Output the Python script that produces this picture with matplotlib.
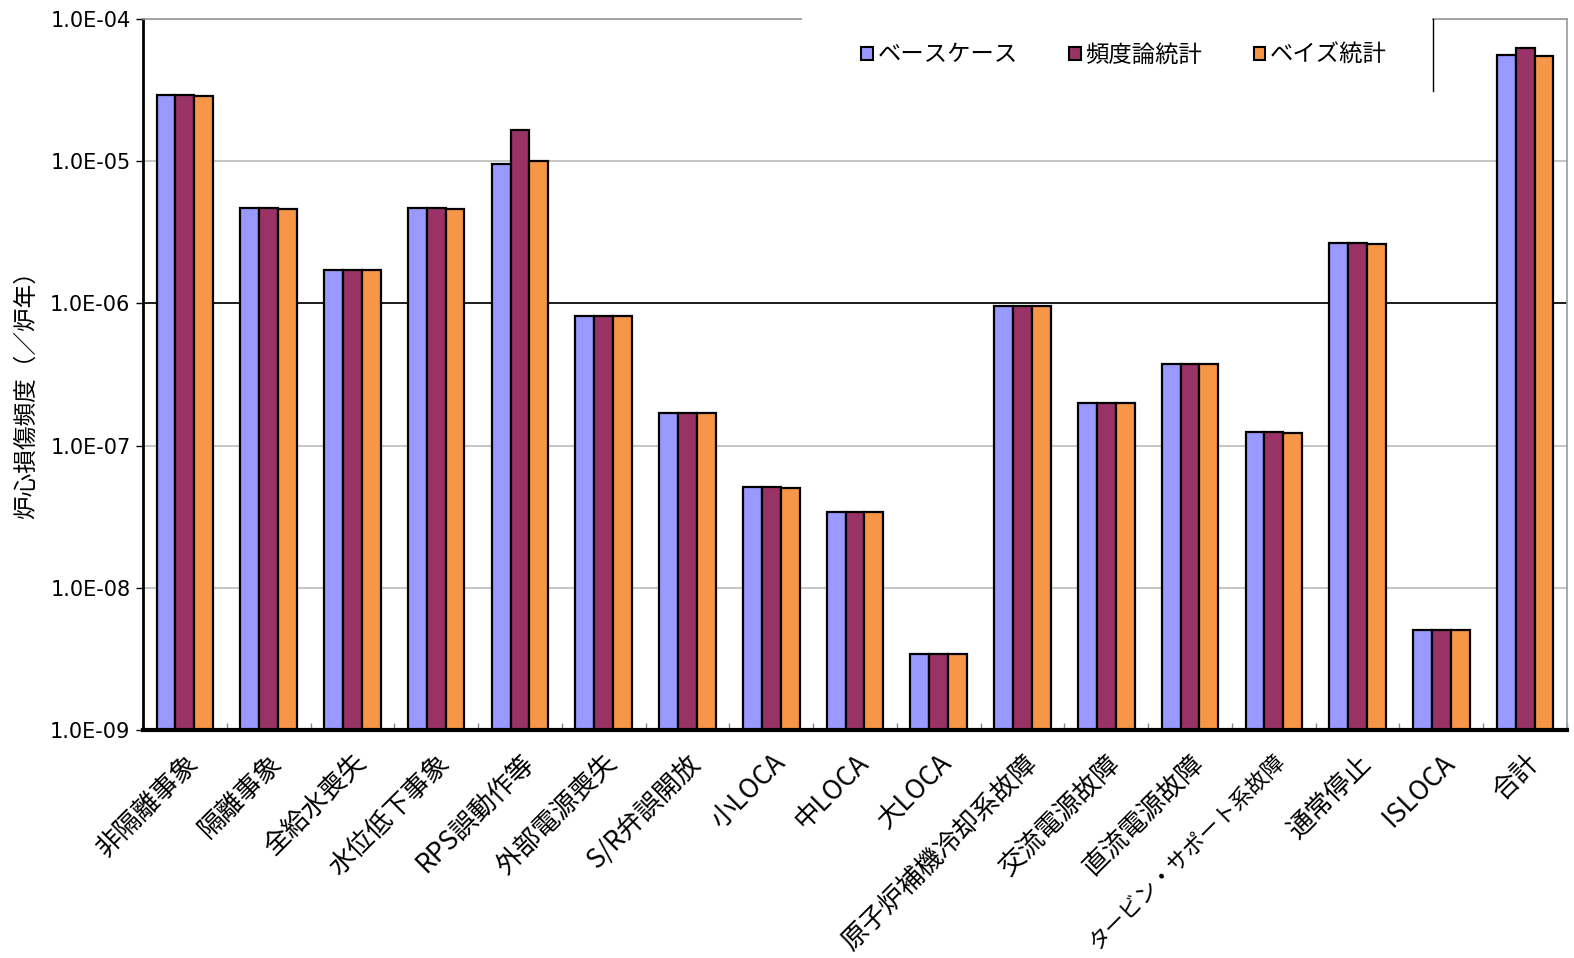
import matplotlib
matplotlib.use("Agg")
import matplotlib.pyplot as plt
import numpy as np
from matplotlib.patches import Rectangle
from matplotlib.lines import Line2D
from matplotlib.ticker import FixedLocator, FixedFormatter, NullFormatter

plt.rcParams['font.family'] = ['Noto Sans CJK JP', 'DejaVu Sans']

categories = ["非隔離事象", "隔離事象", "全給水喪失", "水位低下事象", "RPS誤動作等",
              "外部電源喪失", "S/R弁誤開放", "小LOCA", "中LOCA", "大LOCA",
              "原子炉補機冷却系故障", "交流電源故障", "直流電源故障",
              "タービン・サポート系故障", "通常停止", "ISLOCA", "合計"]

base_case = [2.92e-5, 4.71e-6, 1.72e-6, 4.71e-6, 9.5e-6, 8.1e-7, 1.70e-7, 5.13e-8,
             3.41e-8, 3.44e-9, 9.65e-7, 2.0e-7, 3.73e-7, 1.24e-7, 2.65e-6, 5.08e-9, 5.55e-5]
frequentist = [2.92e-5, 4.71e-6, 1.72e-6, 4.71e-6, 1.67e-5, 8.1e-7, 1.70e-7, 5.13e-8,
               3.41e-8, 3.44e-9, 9.65e-7, 2.0e-7, 3.73e-7, 1.24e-7, 2.65e-6, 5.08e-9, 6.3e-5]
bayes = [2.88e-5, 4.63e-6, 1.72e-6, 4.63e-6, 1.01e-5, 8.1e-7, 1.70e-7, 5.06e-8,
         3.41e-8, 3.44e-9, 9.55e-7, 2.0e-7, 3.73e-7, 1.23e-7, 2.63e-6, 5.08e-9, 5.5e-5]

series_names = ["ベースケース", "頻度論統計", "ベイズ統計"]
colors = ["#9999FF", "#993366", "#F79646"]

ytick_values = [1e-9, 1e-8, 1e-7, 1e-6, 1e-5, 1e-4]
ytick_labels = ["1.0E-09", "1.0E-08", "1.0E-07", "1.0E-06", "1.0E-05", "1.0E-04"]
ylabel = "炉心損傷頻度（／炉年）"

W, H = 1574, 958
fig = plt.figure(figsize=(W / 100, H / 100), dpi=100)
L, R, T, B = 143, 1567, 19, 730
ax = fig.add_axes([L / W, 1 - B / H, (R - L) / W, (B - T) / H])

x = np.arange(len(categories))
bw = 0.225
for i, (vals, name, c) in enumerate(zip([base_case, frequentist, bayes], series_names, colors)):
    ax.bar(x + (i - 1) * bw, vals, width=bw, color=c, edgecolor="black",
           linewidth=1.6, label=name, zorder=3)

ax.set_yscale("log")
ax.set_ylim(1e-9, 1e-4)
ax.set_xlim(-0.5, len(categories) - 0.5)

ax.yaxis.set_major_locator(FixedLocator(ytick_values))
ax.yaxis.set_major_formatter(FixedFormatter(ytick_labels))
ax.yaxis.set_minor_locator(FixedLocator([]))
ax.yaxis.set_minor_formatter(NullFormatter())
ax.tick_params(axis="y", which="major", direction="out", length=5, width=1,
               pad=4, colors="black")
for lab in ax.get_yticklabels():
    lab.set_fontfamily(["DejaVu Sans"])
    lab.set_fontsize(15)

ax.set_axisbelow(True)
ax.grid(axis="y", color="#BBBBBB", linewidth=1.2)
ax.axhline(1e-6, color="black", linewidth=1.2, zorder=2)

ax.set_xticks(x)
ax.set_xticklabels(categories, rotation=45, ha="right", va="top",
                   rotation_mode="anchor", fontsize=19)
for lab in ax.get_xticklabels():
    if len(lab.get_text()) > 10:
        lab.set_fontsize(16)
ax.tick_params(axis="x", which="major", length=0, pad=14)
ax.set_xticks(np.arange(len(categories) + 1) - 0.5, minor=True)
ax.tick_params(axis="x", which="minor", direction="in", length=5, width=1, color="#888888")

for s in ["left", "bottom"]:
    ax.spines[s].set_color("black")
ax.spines["left"].set_linewidth(2)
ax.spines["bottom"].set_linewidth(3)
ax.spines["bottom"].set_zorder(5)
for s in ["top", "right"]:
    ax.spines[s].set_color("#999999")
    ax.spines[s].set_linewidth(1.2)

ax.set_ylabel(ylabel, fontsize=17)
ax.yaxis.set_label_coords(-(L - 38) / (R - L), 0.48)

# legend box that masks the top border
fig.patches.append(Rectangle((802 / W, 1 - 92 / H), (1432 - 802) / W, 80 / H,
                             transform=fig.transFigure, facecolor="white",
                             edgecolor="none", zorder=10))
fig.lines.append(Line2D([1433 / W, 1433 / W], [1 - 19 / H, 1 - 91 / H],
                        transform=fig.transFigure, color="black", linewidth=1, zorder=11))

leg = fig.legend(loc="center", bbox_to_anchor=(1124 / W, 1 - 55 / H), ncol=3,
                 frameon=False, fontsize=16.8, handlelength=0.5, handleheight=0.5,
                 handletextpad=0.2, columnspacing=2.2)
leg.set_zorder(12)
for h in leg.legend_handles:
    h.set_linewidth(1.5)

fig.savefig("out.png", dpi=100)
